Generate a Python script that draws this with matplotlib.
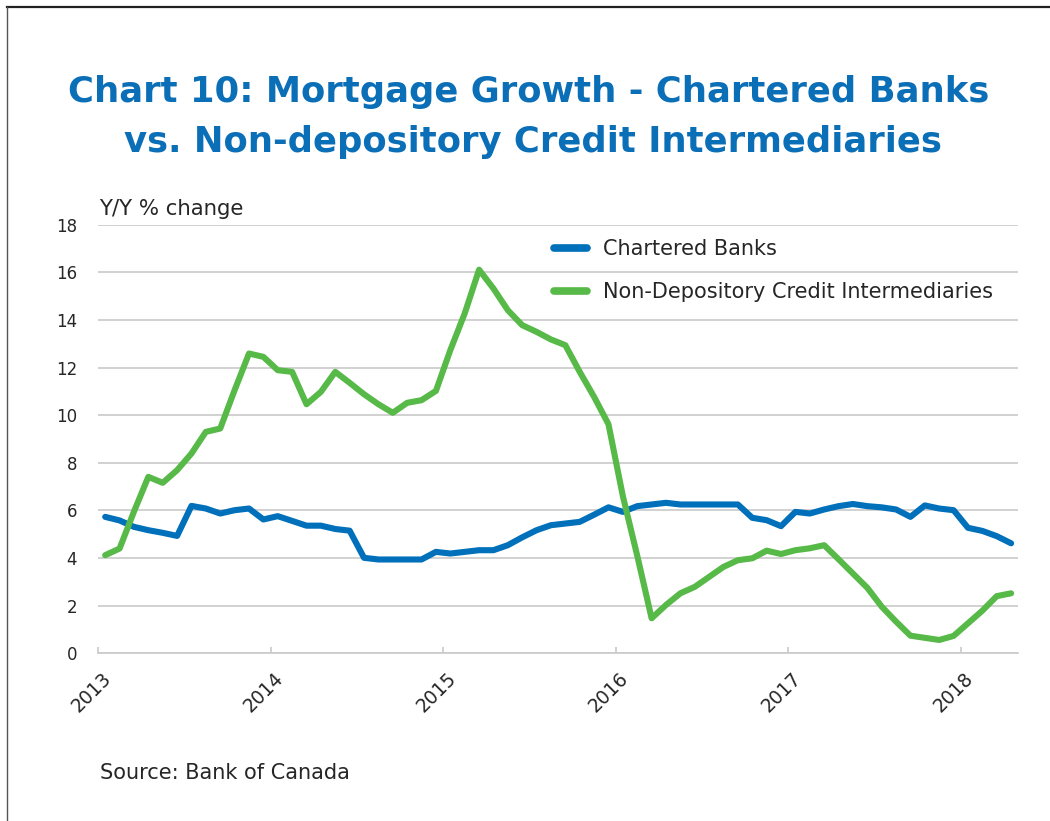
import matplotlib
matplotlib.use("Agg")
import matplotlib.pyplot as plt
from matplotlib.lines import Line2D
from matplotlib.transforms import ScaledTranslation
import numpy as np

# ---- data (monthly, Jan 2013 - Apr 2018) ----
months = [f"{y}-{m:02d}" for y in range(2013, 2019) for m in range(1, 13)][:64]

chartered_banks = [
    5.73, 5.58, 5.31, 5.17, 5.06, 4.93, 6.19, 6.08, 5.87, 6.01, 6.08, 5.62,
    5.76, 5.56, 5.36, 5.36, 5.22, 5.15, 4.01, 3.94, 3.94, 3.94, 3.94, 4.26,
    4.19, 4.26, 4.33, 4.33, 4.54, 4.87, 5.17, 5.38, 5.45, 5.52, 5.82, 6.13,
    5.94, 6.18, 6.25, 6.32, 6.25, 6.25, 6.25, 6.25, 6.25, 5.69, 5.59, 5.34,
    5.94, 5.87, 6.04, 6.18, 6.27, 6.18, 6.13, 6.04, 5.73, 6.21, 6.08, 6.01,
    5.27, 5.14, 4.92, 4.62,
]

non_depository = [
    4.12, 4.40, 5.95, 7.41, 7.16, 7.69, 8.39, 9.30, 9.44, 11.05, 12.59, 12.45,
    11.89, 11.82, 10.46, 10.98, 11.82, 11.36, 10.88, 10.46, 10.10, 10.52, 10.63, 11.02,
    12.73, 14.27, 16.11, 15.32, 14.41, 13.78, 13.50, 13.18, 12.94, 11.82, 10.77, 9.62,
    6.60, 4.10, 1.47, 2.03, 2.52, 2.79, 3.21, 3.63, 3.91, 3.99, 4.31, 4.17,
    4.33, 4.41, 4.54, 3.95, 3.35, 2.75, 1.96, 1.33, 0.74, 0.65, 0.56, 0.73,
    1.26, 1.79, 2.40, 2.52,
]

series_labels = ["Chartered Banks", "Non-Depository Credit Intermediaries"]
year_labels = ["2013", "2014", "2015", "2016", "2017", "2018"]
y_ticks = [0, 2, 4, 6, 8, 10, 12, 14, 16, 18]

title_lines = ["Chart 10: Mortgage Growth - Chartered Banks",
               "vs. Non-depository Credit Intermediaries"]
y_label = "Y/Y % change"
source = "Source: Bank of Canada"

# ---- style ----
FONT = ["DejaVu Sans"]
plt.rcParams["font.family"] = FONT
BLUE = "#0070BA"
GREEN = "#57B947"
TITLE_BLUE = "#0B6FB8"
GRID = "#C9C9C9"
TEXT = "#262626"

fig = plt.figure(figsize=(10.5, 8.21), dpi=100)
fig.patch.set_facecolor("white")

W, H = 1050, 821
left, right, top, bottom = 98, 1018.3, 224.7, 653.3
ax = fig.add_axes([left / W, (H - bottom) / H, (right - left) / W, (bottom - top) / H])

x = np.arange(len(months))
ax.plot(x, chartered_banks, color=BLUE, lw=4.4, solid_joinstyle="round",
        solid_capstyle="round", label=series_labels[0], zorder=3)
ax.plot(x, non_depository, color=GREEN, lw=4.4, solid_joinstyle="round",
        solid_capstyle="round", label=series_labels[1], zorder=3)

ax.set_xlim(-0.5, len(months) - 0.5)
ax.set_ylim(0, 18)
ax.set_yticks(y_ticks)
ax.set_yticklabels([str(t) for t in y_ticks])
ax.yaxis.grid(True, color=GRID, lw=1.2)
ax.set_axisbelow(True)

for s in ["left", "right", "top"]:
    ax.spines[s].set_visible(False)
ax.spines["bottom"].set_color(GRID)
ax.spines["bottom"].set_linewidth(1.2)

tick_pos = [-0.5 + 12 * k for k in range(len(year_labels))]
ax.set_xticks(tick_pos)
ax.set_xticklabels(year_labels, rotation=45, ha="right", va="center",
                   rotation_mode="anchor")
ax.tick_params(axis="x", direction="in", length=4.5, width=1.2, color=GRID,
               labelsize=13.5, labelcolor=TEXT, pad=16)
ax.tick_params(axis="y", length=0, labelsize=12, labelcolor=TEXT, pad=15)
for lab in ax.get_xticklabels():
    lab.set_transform(lab.get_transform() + ScaledTranslation(0.10, 0.0, fig.dpi_scale_trans))

leg = ax.legend(loc="upper left",
                bbox_to_anchor=((554 - left) / (right - left), 1 - (239 - top) / (bottom - top)),
                frameon=False, fontsize=15, handlelength=1.6, handletextpad=0.75,
                labelspacing=1.12, borderaxespad=0, borderpad=0)
for t in leg.get_texts():
    t.set_color(TEXT)
for h in leg.legend_handles:
    h.set_linewidth(5.5)
    h.set_solid_capstyle("round")

fig.text(529 / W, 1 - 102 / H, title_lines[0], ha="center", va="baseline",
         color=TITLE_BLUE, fontsize=25.5, fontweight="bold")
fig.text(533 / W, 1 - 152 / H, title_lines[1], ha="center", va="baseline",
         color=TITLE_BLUE, fontsize=25.5, fontweight="bold")
fig.text(99 / W, 1 - 215 / H, y_label, ha="left", va="baseline", color=TEXT, fontsize=15.3)
fig.text(100 / W, 1 - 779 / H, source, ha="left", va="baseline", color=TEXT, fontsize=15)

# frame
fig.add_artist(Line2D([7 / W, 1], [1 - 7 / H, 1 - 7 / H], color="#222222", lw=1.6,
                      transform=fig.transFigure))
fig.add_artist(Line2D([7 / W, 7 / W], [0, 1 - 7 / H], color="#555555", lw=1.0,
                      transform=fig.transFigure))

fig.savefig("out.png", dpi=100)
